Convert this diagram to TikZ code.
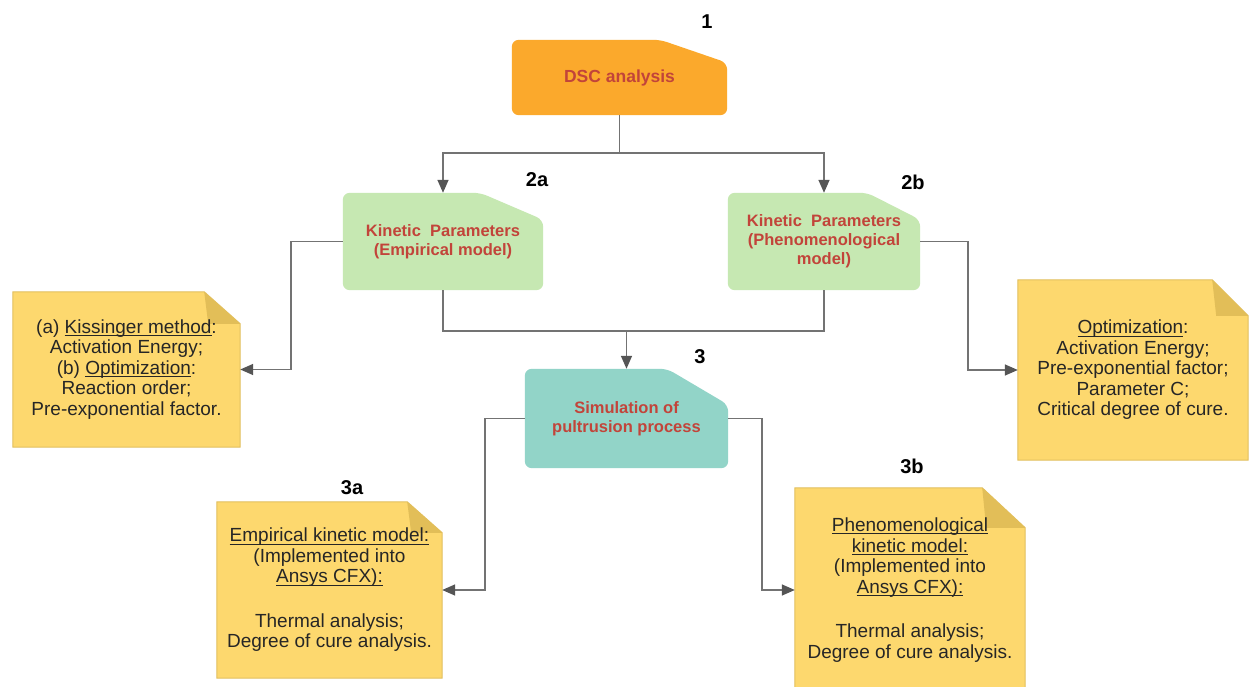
\documentclass[tikz,border=0pt]{standalone}
\usepackage{fontspec}
\setmainfont{Liberation Sans}
\usetikzlibrary{arrows.meta,calc,backgrounds}
\definecolor{orangebox}{HTML}{FBA92C}
\definecolor{greenbox}{HTML}{C6E8B2}
\definecolor{tealbox}{HTML}{92D4C8}
\definecolor{notebg}{HTML}{FDD86E}
\definecolor{noteedge}{HTML}{E2BF5E}
\definecolor{notefold}{HTML}{E2BE58}
\definecolor{boxtext}{HTML}{C2443A}
\definecolor{linegray}{HTML}{737373}
\definecolor{tipgray}{HTML}{555555}
\definecolor{notetext}{HTML}{262626}

\newcommand{\cutfill}[4]{%
  \fill[#4, rounded corners=7pt] (#1.south west) -- (#1.north west)
    -- ($(#1.north east)+(-#2,0)$) -- ($(#1.north east)+(0,#3)$)
    -- (#1.south east) -- cycle;}
\newcommand{\drawnote}[3]{%
  \filldraw[fill=notebg, draw=noteedge, line width=1pt] (#1.south west) -- (#1.north west)
    -- ($(#1.north east)+(-#2,0)$) -- ($(#1.north east)+(0,#3)$)
    -- (#1.south east) -- cycle;
  \fill[notefold] ($(#1.north east)+(-#2,0)$) -- ($(#1.north east)+(-#2+4,#3)$)
    -- ($(#1.north east)+(0,#3)$) -- cycle;}
\newcommand{\ulx}[1]{\setbox0\hbox{#1}\rlap{\rule[-2.6pt]{\wd0}{0.9pt}}\box0}

\tikzset{
  boxtxt/.style={rectangle, inner sep=0pt, align=center, text=boxtext,
    font=\fontsize{16.5}{19}\selectfont\bfseries},
  notetxt/.style={rectangle, inner sep=0pt, align=center, text=notetext,
    font=\fontsize{19}{20.5}\selectfont},
  lbl/.style={inner sep=0pt, text=black, font=\fontsize{20}{22}\selectfont\bfseries},
  link/.style={draw=linegray, line width=1.5pt},
  conn/.style={draw=linegray, line width=1.5pt,
    -{Triangle[length=13pt,width=11pt,color=tipgray]}},
}

\begin{document}
\begin{tikzpicture}[x=1pt,y=-1pt]
\useasboundingbox (0,0) rectangle (1254,687);

% main boxes
\node[boxtxt, minimum width=215pt, minimum height=75pt,
  font=\fontsize{17.5}{20}\selectfont\bfseries] (dsc) at (619.5,77.5) {DSC analysis};
\node[boxtxt, minimum width=200pt, minimum height=97pt] (k2a) at (443,241.5)
  {Kinetic\ \ Parameters\\(Empirical model)};
\node[boxtxt, minimum width=192pt, minimum height=97pt] (k2b) at (824,241.5)
  {Kinetic\ \ Parameters\\(Phenomenological\\model)};
\node[boxtxt, minimum width=203pt, minimum height=99pt] (sim) at (626.5,418.5)
  {Simulation of\\pultrusion process};

% notes
\node[notetxt, minimum width=227pt, minimum height=155pt] (notea) at (126.5,369.5)
  {(a) \ulx{Kissinger method}:\\Activation Energy;\\(b) \ulx{Optimization}:\\Reaction order;\\Pre-exponential factor.};
\node[notetxt, minimum width=230pt, minimum height=180pt] (noteb) at (1133,370)
  {\ulx{Optimization}:\\Activation Energy;\\Pre-exponential factor;\\Parameter C;\\Critical degree of cure.};
\node[notetxt, minimum width=225pt, minimum height=176pt] (note3a) at (329.5,590)
  {\ulx{Empirical kinetic model:}\\(Implemented into\\\ulx{Ansys CFX):}\\[24pt]Thermal analysis;\\Degree of cure analysis.};
\node[notetxt, minimum width=230pt, minimum height=204pt] (note3b) at (910,590)
  {\ulx{Phenomenological}\\\ulx{kinetic model:}\\(Implemented into\\\ulx{Ansys CFX):}\\[24pt]Thermal analysis;\\Degree of cure analysis.};

% labels
\node[lbl] (l1) at (707,22) {1};
\node[lbl] (l2a) at (537,180) {2a};
\node[lbl] (l2b) at (913,182) {2b};
\node[lbl] (l3) at (700,357) {3};
\node[lbl] (l3a) at (352,488) {3a};
\node[lbl] (l3b) at (912,466) {3b};

\begin{scope}[on background layer]
  \fill[white] (0,0) rectangle (1254,687);
  \cutfill{dsc}{67}{23}{orangebox}
  \cutfill{k2a}{63}{27}{greenbox}
  \cutfill{k2b}{53}{27}{greenbox}
  \cutfill{sim}{61}{36}{tealbox}
  \drawnote{notea}{36}{32}
  \drawnote{noteb}{36}{36}
  \drawnote{note3a}{35}{31}
  \drawnote{note3b}{43}{40}
\end{scope}

% connectors
\draw[conn] (dsc.south) -- ++(0,38) -| (k2a.north);
\draw[conn] (dsc.south) -- ++(0,38) -| (k2b.north);
\draw[conn] (k2a.west) -- ++(-52,0) |- (notea.east);
\draw[conn] (k2b.east) -- ++(48,0) |- (noteb.west);
\draw[link] (k2a.south) -- ++(0,41) -| (k2b.south);
\coordinate (merge) at ($(k2a.south)+(0,41)$);
\draw[conn] (merge -| sim.north) -- (sim.north);
\draw[conn] (sim.west) -- ++(-40,0) |- (note3a.east);
\draw[conn] (sim.east) -- ++(34,0) |- (note3b.west);
\end{tikzpicture}
\end{document}
